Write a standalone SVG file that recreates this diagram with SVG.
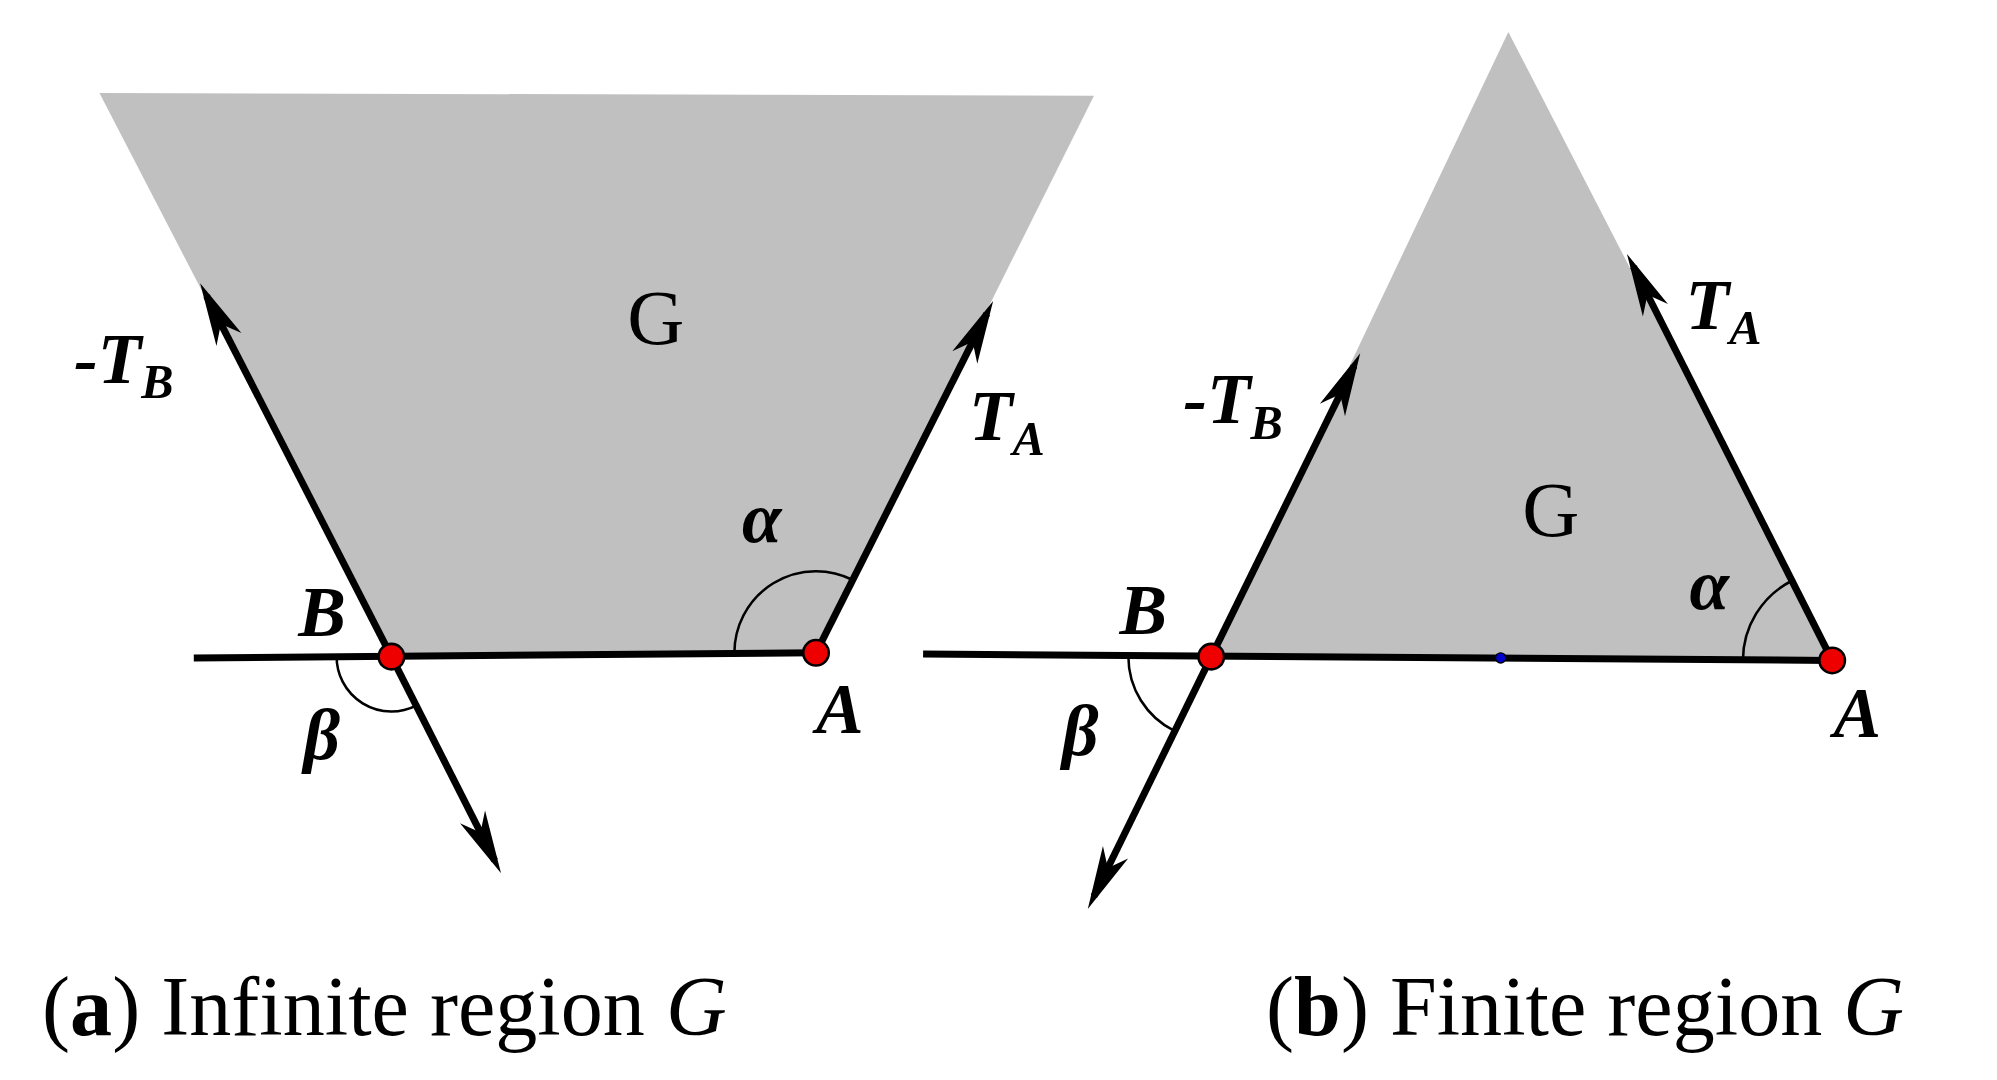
<svg xmlns="http://www.w3.org/2000/svg" width="1997" height="1080" viewBox="0 0 1997 1080">
<style>
.ln{stroke:#000;stroke-width:5.5;fill:none}
.arw{stroke:#000;stroke-width:5.5;fill:none;marker-end:url(#ah)}
.arc{stroke:#000;stroke-width:2;fill:none}
.pt{fill:#e00;stroke:#000;stroke-width:2}
.lb{font-family:"Liberation Serif",serif;font-weight:bold;font-style:italic;font-size:56px}
.sb{font-size:38px}
.g{font-family:"Liberation Serif",serif;font-size:62px}
.cap{font-family:"Liberation Serif",serif;font-size:66px}
</style>
<defs>
<marker id="ah" markerWidth="9" markerHeight="5" refX="7" refY="2.5" orient="auto" markerUnits="strokeWidth">
<path d="M0,0.5 L9,2.5 L0,4.5 L2.5,2.5 Z" fill="#000"/>
</marker>
</defs>
<rect width="1997" height="1080" fill="#fff"/>
<g transform="scale(1.275)">
<g id="panel-a">
<polygon id="region-a" points="78,73 858,75 640,512 307,515" fill="#c0c0c0"/>
<g id="connectors-a">
<line class="ln" x1="152" y1="516" x2="640" y2="512"/>
<line class="arw" x1="307" y1="515" x2="162" y2="232"/>
<line class="arw" x1="640" y1="512" x2="774" y2="246"/>
<line class="arw" x1="307" y1="515" x2="388" y2="675"/>
<path class="arc" d="M576,512 A64,64 0 0 1 668.9,454.9"/>
<path class="arc" d="M264,515 A43,43 0 0 0 326.4,553.4"/>
</g>
<g id="B-a"><circle class="pt" cx="307" cy="515" r="10"/><text class="lb" x="234" y="499">B</text></g>
<g id="A-a"><circle class="pt" cx="640" cy="512" r="10"/><text class="lb" x="640" y="575">A</text></g>
<text class="g" x="492" y="270">G</text>
<text class="lb" x="58" y="300">-T<tspan class="sb" dy="12">B</tspan></text>
<text class="lb" x="760" y="345">T<tspan class="sb" dy="12">A</tspan></text>
<text class="lb" x="582" y="425">α</text>
<text class="lb" x="238" y="595">β</text>
</g>
<g id="panel-b">
<polygon id="region-b" points="1183,25 1437,518 950,515" fill="#c0c0c0"/>
<g id="connectors-b">
<line class="ln" x1="724" y1="513" x2="1437" y2="518"/>
<line class="arw" x1="950" y1="515" x2="1062" y2="287"/>
<line class="arw" x1="1437" y1="518" x2="1281" y2="209"/>
<line class="arw" x1="950" y1="515" x2="858" y2="703"/>
<path class="arc" d="M1367,518 A70,70 0 0 1 1405.4,455.5"/>
<path class="arc" d="M885,515 A65,65 0 0 0 921.4,573.4"/>
</g>
<circle cx="1177" cy="516" r="4" fill="#00c" stroke="#000" stroke-width="1"/>
<g id="B-b"><circle class="pt" cx="950" cy="515" r="10"/><text class="lb" x="878" y="497">B</text></g>
<g id="A-b"><circle class="pt" cx="1437" cy="518" r="10"/><text class="lb" x="1438" y="578">A</text></g>
<text class="g" x="1194" y="420">G</text>
<text class="lb" x="928" y="332">-T<tspan class="sb" dy="12">B</tspan></text>
<text class="lb" x="1322" y="258">T<tspan class="sb" dy="12">A</tspan></text>
<text class="lb" x="1325" y="478">α</text>
<text class="lb" x="833" y="592">β</text>
</g>
<text class="cap" x="33" y="812">(<tspan font-weight="bold">a</tspan>) Infinite region <tspan font-style="italic">G</tspan></text>
<text class="cap" x="993" y="812">(<tspan font-weight="bold">b</tspan>) Finite region <tspan font-style="italic">G</tspan></text>
</g>
</svg>
